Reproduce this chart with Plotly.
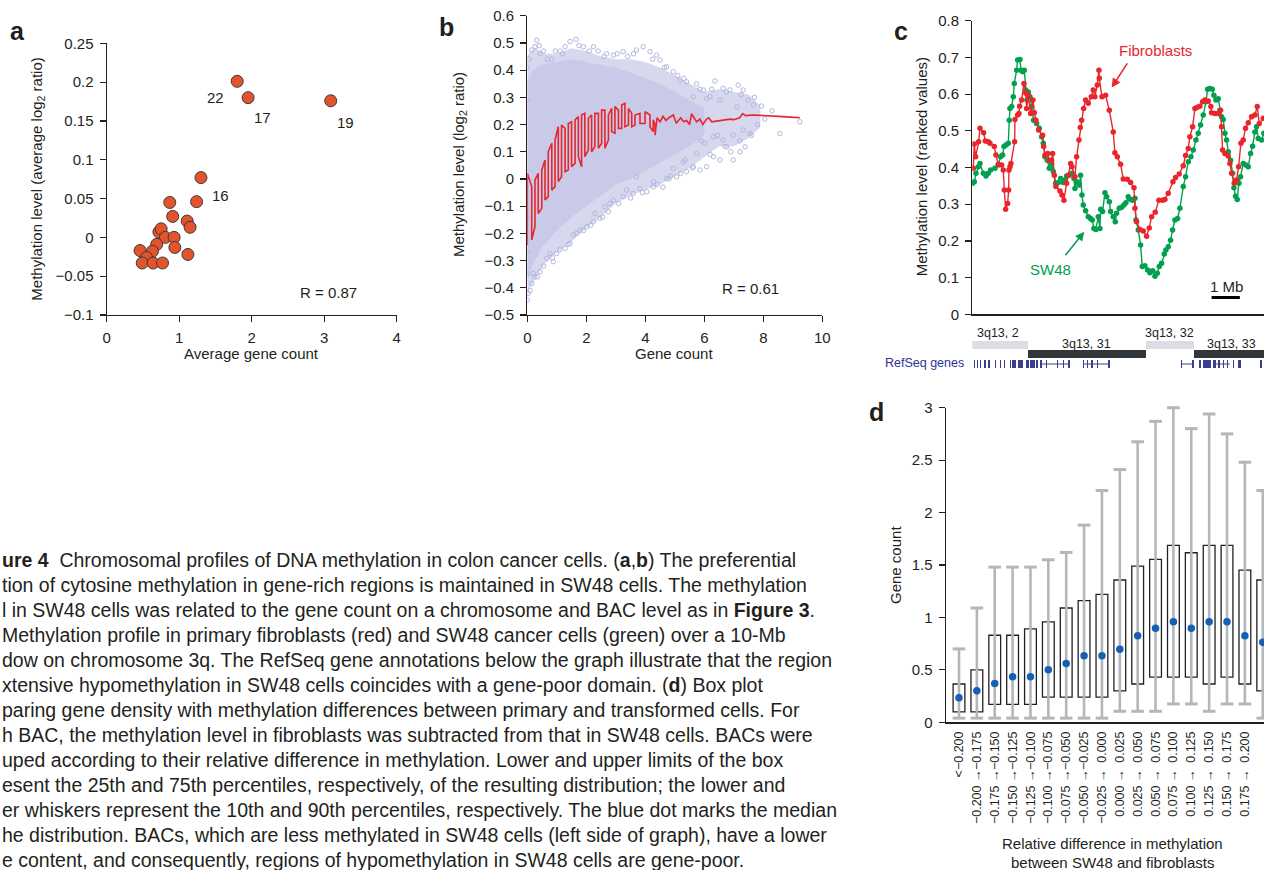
import plotly.graph_objects as go

W, H = 1264, 870
FONT = "Liberation Sans, Arial, Helvetica, sans-serif"
INK = "#231f20"

def fx(p):
    return p / W

def fy(p):
    return 1 - p / H

# ---------------- Panel a data ----------------
a_gene = [1.80, 1.95, 3.09, 1.30, 0.87, 1.24, 0.91, 1.11, 1.15, 0.72, 0.75,
          0.81, 0.93, 0.69, 0.94, 0.46, 0.63, 0.55, 1.12, 0.49, 0.64, 0.77]
a_meth = [0.201, 0.180, 0.176, 0.077, 0.045, 0.046, 0.027, 0.021, 0.013, 0.007, 0.011,
          0.000, 0.000, -0.009, -0.013, -0.017, -0.018, -0.026, -0.022, -0.033, -0.033, -0.033]
a_chrom_labels = ["22", "17", "19", "16"]
a_label_idx = [0, 1, 2, 3]
a_yticks = [-0.1, -0.05, 0, 0.05, 0.1, 0.15, 0.2, 0.25]
a_yticktext = ["\u22120.1", "\u22120.05", "0", "0.05", "0.1", "0.15", "0.2", "0.25"]

# ---------------- Panel b data ----------------
b_outer_x = [0.0, 0.1, 0.3, 0.6, 1.0, 1.5, 2.0, 2.5, 3.0, 3.5, 4.0, 4.5, 5.0, 5.5, 6.0, 6.5, 7.0, 7.5, 7.9]
b_outer_hi = [0.45, 0.47, 0.48, 0.46, 0.46, 0.48, 0.47, 0.45, 0.44, 0.44, 0.43, 0.41, 0.38, 0.35, 0.32, 0.33, 0.32, 0.31, 0.27]
b_outer_lo = [-0.44, -0.40, -0.36, -0.31, -0.27, -0.23, -0.18, -0.14, -0.09, -0.06, -0.04, -0.02, 0.01, 0.04, 0.08, 0.12, 0.12, 0.15, 0.19]
b_core_x = [0.0, 0.2, 0.5, 1.0, 1.5, 2.0, 2.5, 3.0, 3.5, 4.0, 4.5, 5.0, 5.5, 6.0]
b_core_hi = [0.36, 0.40, 0.42, 0.43, 0.44, 0.43, 0.42, 0.41, 0.39, 0.37, 0.35, 0.32, 0.29, 0.26]
b_core_lo = [-0.36, -0.31, -0.25, -0.19, -0.14, -0.10, -0.06, -0.02, 0.00, 0.03, 0.06, 0.09, 0.12, 0.16]
b_pts_x = [0.15, 0.26, 0.32, 0.43, 0.68, 0.82, 1.11, 1.28, 1.45, 1.65, 1.90, 2.24, 2.69, 2.92,
           3.25, 3.70, 3.93, 4.16, 4.38, 4.50, 4.72, 4.95, 5.18, 5.40, 5.74, 5.97, 6.19, 6.36,
           6.64, 6.87, 7.15, 7.32, 7.49, 7.94, 7.66, 7.10, 6.53, 6.08, 5.63,
           9.24, 8.56, 7.55, 7.38, 7.21, 6.98, 6.76, 6.53, 6.31, 6.08, 5.85, 5.63, 5.40, 5.06,
           4.72, 4.27, 4.05, 3.82, 3.59, 3.25, 2.92, 2.63, 2.46, 2.24, 2.01, 1.79, 1.56, 1.28,
           0.99, 0.88, 0.66, 0.43, 0.26, 0.15, 0.03, 0.00, 0.20, 0.77, 1.45, 1.67, 2.29, 2.80,
           3.37, 4.27, 3.70, 4.95, 5.29, 5.74, 6.02, 6.31, 6.64, 6.98, 7.32,
           0.0, 0.0, 0.0, 0.0, 0.0, 8.05, 8.30, 7.80, 6.90, 6.45, 5.90, 5.35, 4.85, 4.60,
           0.05, 0.40, 0.55, 0.95, 1.20, 1.75, 2.10, 2.40, 2.60, 3.05, 3.40, 3.60, 4.25, 4.65,
           5.10, 5.30, 5.85, 6.25, 6.75, 7.25, 7.70,
           0.10, 0.35, 0.55, 0.85, 1.10, 1.40, 1.90, 2.15, 2.55, 2.75, 3.10, 3.50, 3.90, 4.40,
           4.80, 5.20, 5.60, 6.20, 6.70, 7.20, 7.60]
b_pts_y = [0.474, 0.486, 0.510, 0.460, 0.440, 0.440, 0.470, 0.486, 0.505, 0.513, 0.486, 0.486, 0.460, 0.455,
           0.468, 0.474, 0.486, 0.468, 0.455, 0.437, 0.412, 0.394, 0.363, 0.357, 0.350, 0.327, 0.302, 0.360,
           0.333, 0.327, 0.345, 0.327, 0.290, 0.268, 0.272, 0.265, 0.290, 0.296, 0.302,
           0.210, 0.167, 0.167, 0.118, 0.100, 0.070, 0.118, 0.070, 0.082, 0.045, 0.033, 0.045, 0.027, 0.008,
           0.002, -0.029, -0.047, -0.035, -0.053, -0.065, -0.078, -0.102, -0.145, -0.157, -0.176, -0.188, -0.206, -0.255,
           -0.274, -0.304, -0.292, -0.341, -0.360, -0.384, -0.421, -0.445, -0.347, -0.274, -0.237, -0.200, -0.127, -0.090,
           -0.041, -0.010, 0.008, 0.039, 0.063, 0.094, 0.131, 0.155, 0.143, 0.161, 0.180,
           0.41, 0.29, -0.14, -0.27, -0.35, 0.22, 0.25, 0.20, 0.10, 0.16, 0.14, 0.07, 0.01, -0.03,
           0.44, 0.49, 0.47, 0.47, 0.46, 0.49, 0.47, 0.47, 0.45, 0.46, 0.45, 0.46, 0.44, 0.41,
           0.38, 0.37, 0.33, 0.33, 0.32, 0.31, 0.30,
           -0.41, -0.36, -0.32, -0.29, -0.26, -0.24, -0.19, -0.17, -0.14, -0.12, -0.09, -0.07, -0.05, -0.02,
           0.00, 0.02, 0.04, 0.09, 0.12, 0.14, 0.16]
b_red_x = [0.0, 0.15, 0.26, 0.37, 0.49, 0.60, 0.71, 0.83, 0.94, 1.05, 1.16, 1.28, 1.39, 1.50,
           1.62, 1.73, 1.84, 1.95, 2.07, 2.18, 2.29, 2.41, 2.52, 2.63, 2.75, 2.86, 2.97, 3.09,
           3.20, 3.31, 3.43, 3.54, 3.65, 3.82, 3.99, 4.16, 4.27, 4.33]
b_red_lo = [-0.243, -0.224, -0.175, -0.127, -0.108, -0.077, -0.065, -0.041, -0.028, -0.010, 0.008, 0.027,
            0.033, 0.045, 0.057, 0.082, 0.045, 0.082, 0.106, 0.100, 0.119, 0.113, 0.131, 0.113, 0.143,
            0.174, 0.168, 0.186, 0.186, 0.192, 0.198, 0.192, 0.198, 0.204, 0.204, 0.192, 0.174, 0.161]
b_red_hi = [0.021, -0.028, -0.004, 0.021, 0.033, 0.070, 0.100, 0.131, 0.143, 0.192, 0.198, 0.186,
            0.204, 0.210, 0.217, 0.229, 0.235, 0.241, 0.223, 0.235, 0.241, 0.241, 0.253, 0.253, 0.235,
            0.259, 0.266, 0.253, 0.272, 0.278, 0.259, 0.241, 0.235, 0.241, 0.247, 0.235, 0.217, 0.200]
b_tail_x = [4.40, 4.50, 4.60, 4.70, 4.80, 4.95, 5.05, 5.20, 5.30, 5.40, 5.50, 5.57, 5.65, 5.74, 5.85,
            5.95, 6.08, 6.15, 6.25, 6.40, 6.53, 6.70, 6.87, 7.00, 7.20, 7.30, 7.40, 7.66, 8.00, 8.23,
            8.50, 8.79, 9.00, 9.24]
b_tail_y = [0.225, 0.210, 0.230, 0.215, 0.225, 0.235, 0.205, 0.225, 0.210, 0.215, 0.200, 0.240, 0.225,
            0.210, 0.220, 0.200, 0.220, 0.225, 0.210, 0.212, 0.215, 0.218, 0.220, 0.218, 0.225, 0.240,
            0.233, 0.235, 0.234, 0.232, 0.230, 0.228, 0.227, 0.225]
b_yticks = [-0.5, -0.4, -0.3, -0.2, -0.1, 0, 0.1, 0.2, 0.3, 0.4, 0.5, 0.6]
b_yticktext = ["\u22120.5", "\u22120.4", "\u22120.3", "\u22120.2", "\u22120.1", "0",
               "0.1", "0.2", "0.3", "0.4", "0.5", "0.6"]

# ---------------- Panel c data (position in Mb) ----------------
c_fib_x = [0.035, 0.07, 0.118, 0.224, 0.271, 0.40, 0.459, 0.565, 0.624, 0.777, 0.836, 0.919, 1.037, 1.095,
           1.131, 1.178, 1.249, 1.284, 1.296, 1.331, 1.366, 1.496, 1.508, 1.602, 1.649, 1.673, 1.743,
           1.826, 1.896, 1.92, 1.979, 2.061, 2.144, 2.191, 2.25, 2.344, 2.485, 2.521, 2.568, 2.662,
           2.721, 2.803, 2.839, 2.898, 2.956, 3.098, 3.168, 3.239, 3.333, 3.392, 3.475, 3.522, 3.628,
           3.687, 3.769, 3.816, 3.863, 3.934, 4.005, 4.099, 4.205, 4.276, 4.334, 4.417, 4.476, 4.488,
           4.582, 4.711, 4.841, 4.982, 5.041, 5.124, 5.241, 5.336, 5.477, 5.595, 5.713, 5.748, 5.807,
           5.925, 6.042, 6.16, 6.254, 6.337, 6.466, 6.596, 6.726, 6.808, 6.926, 7.091, 7.185, 7.314,
           7.456, 7.538, 7.633, 7.691, 7.786, 7.868, 7.951, 8.045, 8.139, 8.221, 8.339, 8.433, 8.457,
           8.575, 8.693, 8.775, 8.81, 8.846, 8.928, 9.046, 9.105, 9.164, 9.258, 9.34, 9.411, 9.494,
           9.576, 9.658, 9.753, 9.871, 9.988, 10.071, 10.141, 10.283]
c_fib_y = [0.398, 0.464, 0.429, 0.470, 0.507, 0.495, 0.472, 0.470, 0.466, 0.457, 0.434, 0.409, 0.407, 0.393,
           0.339, 0.286, 0.302, 0.339, 0.393, 0.402, 0.411, 0.470, 0.531, 0.543, 0.547, 0.567, 0.584,
           0.629, 0.602, 0.561, 0.597, 0.547, 0.584, 0.549, 0.529, 0.502, 0.488, 0.457, 0.434, 0.438,
           0.420, 0.420, 0.438, 0.379, 0.348, 0.336, 0.325, 0.311, 0.357, 0.379, 0.411, 0.402, 0.375,
           0.429, 0.475, 0.509, 0.529, 0.561, 0.584, 0.575, 0.593, 0.611, 0.593, 0.625, 0.665, 0.643,
           0.593, 0.597, 0.556, 0.497, 0.440, 0.429, 0.409, 0.369, 0.368, 0.359, 0.345, 0.289, 0.252,
           0.231, 0.227, 0.213, 0.235, 0.266, 0.278, 0.311, 0.311, 0.313, 0.330, 0.361, 0.373, 0.382,
           0.405, 0.433, 0.452, 0.484, 0.511, 0.561, 0.564, 0.567, 0.579, 0.584, 0.581, 0.566, 0.549,
           0.547, 0.547, 0.556, 0.511, 0.448, 0.438, 0.431, 0.411, 0.384, 0.357, 0.366, 0.402, 0.466,
           0.475, 0.507, 0.522, 0.538, 0.543, 0.566, 0.520, 0.534]
c_sw_x = [0.012, 0.071, 0.13, 0.212, 0.271, 0.389, 0.483, 0.565, 0.648, 0.801, 0.919, 1.001, 1.072, 1.119,
          1.19, 1.272, 1.307, 1.331, 1.39, 1.449, 1.484, 1.567, 1.602, 1.684, 1.72, 1.779, 1.837, 1.885,
          1.932, 1.979, 2.038, 2.097, 2.167, 2.273, 2.367, 2.45, 2.509, 2.568, 2.65, 2.721, 2.803, 2.862,
          2.945, 3.039, 3.121, 3.216, 3.274, 3.333, 3.428, 3.522, 3.592, 3.628, 3.687, 3.781, 3.828,
          3.875, 3.922, 4.005, 4.099, 4.181, 4.24, 4.299, 4.37, 4.452, 4.511, 4.535, 4.605, 4.688, 4.747,
          4.841, 4.888, 4.982, 5.053, 5.1, 5.194, 5.277, 5.359, 5.43, 5.512, 5.595, 5.665, 5.748, 5.783,
          5.866, 5.948, 6.007, 6.101, 6.196, 6.278, 6.372, 6.455, 6.537, 6.608, 6.69, 6.784, 6.843,
          6.926, 7.008, 7.079, 7.161, 7.256, 7.338, 7.456, 7.538, 7.633, 7.727, 7.809, 7.903, 7.986,
          8.068, 8.163, 8.257, 8.316, 8.398, 8.481, 8.539, 8.61, 8.693, 8.751, 8.81, 8.869, 8.928,
          8.987, 9.046, 9.128, 9.199, 9.246, 9.305, 9.364, 9.423, 9.482, 9.576, 9.67, 9.753, 9.835,
          9.906, 9.988, 10.047, 10.106, 10.224, 10.306]
c_sw_y = [0.357, 0.361, 0.384, 0.402, 0.411, 0.384, 0.377, 0.384, 0.393, 0.398, 0.407, 0.429, 0.434, 0.457,
          0.461, 0.466, 0.529, 0.561, 0.566, 0.593, 0.629, 0.665, 0.693, 0.694, 0.665, 0.661, 0.665, 0.611,
          0.584, 0.606, 0.593, 0.566, 0.529, 0.520, 0.507, 0.484, 0.466, 0.429, 0.420, 0.398, 0.411, 0.389,
          0.357, 0.359, 0.370, 0.359, 0.366, 0.377, 0.379, 0.384, 0.370, 0.343, 0.361, 0.352, 0.379,
          0.325, 0.298, 0.282, 0.266, 0.261, 0.257, 0.234, 0.231, 0.266, 0.234, 0.286, 0.280, 0.331, 0.320,
          0.307, 0.280, 0.266, 0.252, 0.275, 0.289, 0.292, 0.298, 0.304, 0.320, 0.313, 0.311, 0.316, 0.257,
          0.230, 0.189, 0.130, 0.132, 0.121, 0.113, 0.119, 0.104, 0.112, 0.130, 0.139, 0.164, 0.175,
          0.184, 0.202, 0.230, 0.257, 0.261, 0.289, 0.348, 0.375, 0.416, 0.429, 0.448, 0.475, 0.493,
          0.516, 0.543, 0.579, 0.613, 0.615, 0.613, 0.597, 0.584, 0.587, 0.556, 0.538, 0.531, 0.493,
          0.475, 0.443, 0.420, 0.384, 0.345, 0.322, 0.313, 0.357, 0.375, 0.411, 0.407, 0.402, 0.438,
          0.458, 0.497, 0.511, 0.479, 0.475, 0.493]
c_yticks = [0, 0.1, 0.2, 0.3, 0.4, 0.5, 0.6, 0.7, 0.8]
c_yticktext = ["0", "0.1", "0.2", "0.3", "0.4", "0.5", "0.6", "0.7", "0.8"]
c_scale_start = 8.457   # Mb, left end of the 1-Mb scale bar
c_scale_len = 1.0

band_names = ["3q13, 2", "3q13, 31", "3q13, 32", "3q13, 33"]
band_start = [-0.12, 1.96, 6.14, 7.83]
band_end = [1.96, 6.14, 7.83, 10.6]
band_dark = [False, True, False, True]
band_label_x = [0.92, 4.05, 6.98, 9.17]

exon_start = [-0.02, 0.06, 0.15, 0.27, 0.42, 0.55, 0.80, 0.97, 1.13, 1.35, 1.42, 1.60, 1.90, 2.05,
              2.25, 2.38, 2.60, 2.80, 3.00, 3.20, 3.40, 3.92, 4.05, 4.20, 4.40, 4.80, 7.38, 7.75, 8.00,
              8.15, 8.50, 8.70, 8.85, 9.00, 9.22, 9.40, 10.18]
exon_end = [0.00, 0.10, 0.20, 0.30, 0.50, 0.62, 0.84, 1.00, 1.17, 1.38, 1.55, 1.78, 2.00, 2.20,
            2.32, 2.45, 2.63, 2.83, 3.03, 3.23, 3.45, 3.96, 4.08, 4.25, 4.44, 4.86, 7.42, 7.82, 8.10,
            8.45, 8.60, 8.75, 8.90, 9.05, 9.26, 9.50, 10.24]
intron_start = [2.45, 3.92, 7.40, 8.60]
intron_end = [3.45, 4.86, 7.80, 9.10]

# ---------------- Panel d data ----------------
d_top_labels = ["<\u22120.200", "\u22120.175", "\u22120.150", "\u22120.125", "\u22120.100", "\u22120.075",
                "\u22120.050", "\u22120.025", "0.000", "0.025", "0.050", "0.075", "0.100", "0.125",
                "0.150", "0.175", "0.200", ">0.200"]
d_low_labels = ["\u22120.200", "\u22120.175", "\u22120.150", "\u22120.125", "\u22120.100", "\u22120.075",
                "\u22120.050", "\u22120.025", "0.000", "0.025", "0.050", "0.075", "0.100", "0.125",
                "0.150", "0.175"]
d_q1 = [0.10, 0.10, 0.17, 0.17, 0.17, 0.24, 0.24, 0.24, 0.24, 0.30, 0.365, 0.43, 0.43, 0.43, 0.365, 0.43, 0.365, 0.30]
d_q3 = [0.365, 0.50, 0.83, 0.83, 0.89, 0.957, 1.09, 1.16, 1.22, 1.357, 1.49, 1.554, 1.687, 1.617, 1.687, 1.687, 1.452, 1.357]
d_med = [0.235, 0.30, 0.37, 0.435, 0.435, 0.50, 0.56, 0.635, 0.635, 0.696, 0.826, 0.896, 0.96, 0.896, 0.96, 0.96, 0.826, 0.763]
d_p10 = [0.04, 0.04, 0.04, 0.04, 0.04, 0.04, 0.04, 0.04, 0.04, 0.105, 0.105, 0.105, 0.175, 0.175, 0.105, 0.175, 0.175, 0.04]
d_p90 = [0.70, 1.09, 1.48, 1.48, 1.48, 1.55, 1.62, 1.88, 2.21, 2.41, 2.675, 2.87, 3.0, 2.80, 2.94, 2.75, 2.48, 2.21]
d_yticks = [0, 0.5, 1, 1.5, 2, 2.5, 3]
d_yticktext = ["0", "0.5", "1", "1.5", "2", "2.5", "3"]

caption_lines = [
    "<b>ure 4</b>  Chromosomal profiles of DNA methylation in colon cancer cells. (<b>a</b>,<b>b</b>) The preferential",
    "tion of cytosine methylation in gene-rich regions is maintained in SW48 cells. The methylation",
    "l in SW48 cells was related to the gene count on a chromosome and BAC level as in <b>Figure 3</b>.",
    "Methylation profile in primary fibroblasts (red) and SW48 cancer cells (green) over a 10-Mb",
    "dow on chromosome 3q. The RefSeq gene annotations below the graph illustrate that the region",
    "xtensive hypomethylation in SW48 cells coincides with a gene-poor domain. (<b>d</b>) Box plot",
    "paring gene density with methylation differences between primary and transformed cells. For",
    "h BAC, the methylation level in fibroblasts was subtracted from that in SW48 cells. BACs were",
    "uped according to their relative difference in methylation. Lower and upper limits of the box",
    "esent the 25th and 75th percentiles, respectively, of the resulting distribution; the lower and",
    "er whiskers represent the 10th and 90th percentiles, respectively. The blue dot marks the median",
    "he distribution. BACs, which are less methylated in SW48 cells (left side of graph), have a lower",
    "e content, and consequently, regions of hypomethylation in SW48 cells are gene-poor.",
]

# ---------------- Figure ----------------
fig = go.Figure()

# Panel a
fig.add_trace(go.Scatter(x=a_gene, y=a_meth, mode="markers", xaxis="x", yaxis="y",
                         marker=dict(size=12, color="#e4542c", line=dict(color="#3b3b3b", width=1)),
                         cliponaxis=False, showlegend=False))

# Panel b
fig.add_trace(go.Scatter(x=b_outer_x + b_outer_x[::-1], y=b_outer_hi + b_outer_lo[::-1],
                         fill="toself", fillcolor="#d6d8ee", mode="lines", line=dict(width=0, color="#d6d8ee"),
                         xaxis="x2", yaxis="y2", showlegend=False, hoverinfo="skip"))
fig.add_trace(go.Scatter(x=b_core_x + b_core_x[::-1], y=b_core_hi + b_core_lo[::-1],
                         fill="toself", fillcolor="#c8cae7", mode="lines", line=dict(width=0, color="#c8cae7"),
                         xaxis="x2", yaxis="y2", showlegend=False, hoverinfo="skip"))
fig.add_trace(go.Scatter(x=b_pts_x, y=b_pts_y, mode="markers", xaxis="x2", yaxis="y2",
                         marker=dict(size=4.5, symbol="circle-open", color="#b3b6de", line=dict(width=1)),
                         showlegend=False))
red_x, red_y = [], []
for i, xv in enumerate(b_red_x):
    if i % 2 == 0:
        red_x += [xv, xv]
        red_y += [b_red_lo[i], b_red_hi[i]]
    else:
        red_x += [xv, xv]
        red_y += [b_red_hi[i], b_red_lo[i]]
red_x += b_tail_x
red_y += b_tail_y
fig.add_trace(go.Scatter(x=red_x, y=red_y, mode="lines", xaxis="x2", yaxis="y2",
                         line=dict(color="#e8262c", width=1.6), showlegend=False))

# Panel c
fig.add_trace(go.Scatter(x=c_sw_x, y=c_sw_y, mode="lines+markers", xaxis="x3", yaxis="y3",
                         line=dict(color="#00a04e", width=1.4), marker=dict(size=5.5, color="#00a04e"),
                         showlegend=False))
fig.add_trace(go.Scatter(x=c_fib_x, y=c_fib_y, mode="lines+markers", xaxis="x3", yaxis="y3",
                         line=dict(color="#e8262c", width=1.4), marker=dict(size=5.5, color="#e8262c"),
                         showlegend=False))

# Cytoband + genes track
for k in range(len(band_names)):
    fig.add_trace(go.Bar(orientation="h", base=[band_start[k]], x=[band_end[k] - band_start[k]],
                         y=[29 if band_dark[k] else 20], width=8, xaxis="x4", yaxis="y4",
                         marker=dict(color="#31363a" if band_dark[k] else "#dcdde3", line=dict(width=0)),
                         showlegend=False, hoverinfo="skip"))
fig.add_trace(go.Bar(orientation="h", base=exon_start, x=[e - s for s, e in zip(exon_start, exon_end)],
                     y=[39] * len(exon_start), width=8, xaxis="x4", yaxis="y4",
                     marker=dict(color="#3a3e92", line=dict(width=0)), showlegend=False, hoverinfo="skip"))
for s, e in zip(intron_start, intron_end):
    fig.add_trace(go.Scatter(x=[s, e], y=[39, 39], mode="lines", xaxis="x4", yaxis="y4",
                             line=dict(color="#3a3e92", width=1), showlegend=False, hoverinfo="skip"))

# Panel d
n_d = len(d_q1)
pos = list(range(n_d))
wx, wy = [], []
for i in pos:
    wx += [i, i, None]
    wy += [d_p10[i], d_p90[i], None]
fig.add_trace(go.Scatter(x=wx, y=wy, mode="lines", xaxis="x5", yaxis="y5",
                         line=dict(color="#b3b7bd", width=2.6), showlegend=False, hoverinfo="skip"))
fig.add_trace(go.Scatter(x=pos + pos, y=d_p10 + d_p90, mode="markers", xaxis="x5", yaxis="y5",
                         marker=dict(symbol="line-ew", size=9, line=dict(color="#b3b7bd", width=3)),
                         cliponaxis=False, showlegend=False, hoverinfo="skip"))
fig.add_trace(go.Bar(x=pos, base=d_q1, y=[q3 - q1 for q1, q3 in zip(d_q1, d_q3)], width=0.66,
                     xaxis="x5", yaxis="y5", marker=dict(color="white", line=dict(color="#231f20", width=1.3)),
                     showlegend=False))
fig.add_trace(go.Scatter(x=pos, y=d_med, mode="markers", xaxis="x5", yaxis="y5",
                         marker=dict(size=7.5, color="#1461b4"), showlegend=False))
fig.add_trace(go.Scatter(x=[0], y=[0], mode="markers", xaxis="x6", yaxis="y5",
                         marker=dict(size=1, opacity=0), showlegend=False, hoverinfo="skip"))

tickfont = dict(family=FONT, size=15, color=INK)
def axis(**kw):
    base = dict(showline=True, linecolor=INK, linewidth=1.2, ticks="outside", ticklen=6, tickwidth=1.2,
                tickcolor=INK, showgrid=False, zeroline=False, tickfont=tickfont, ticklabelstandoff=3,
                fixedrange=True, automargin=False)
    base.update(kw)
    return base

fig.update_layout(
    template="none",
    width=W, height=H, margin=dict(l=0, r=0, t=0, b=0, pad=0, autoexpand=False),
    paper_bgcolor="white", plot_bgcolor="rgba(0,0,0,0)",
    font=dict(family=FONT, color=INK), barmode="overlay", bargap=0,
    xaxis=axis(domain=[fx(106.7), fx(396.7)], range=[0, 4], tickvals=[0, 1, 2, 3, 4], anchor="y"),
    yaxis=axis(domain=[fy(315), fy(43.3)], range=[-0.1, 0.25], tickvals=a_yticks, ticktext=a_yticktext, anchor="x"),
    xaxis2=axis(domain=[fx(527.3), fx(822.3)], range=[0, 10], tickvals=[0, 2, 4, 6, 8, 10], anchor="y2"),
    yaxis2=axis(domain=[fy(315), fy(15.7)], range=[-0.5, 0.6], tickvals=b_yticks, ticktext=b_yticktext, anchor="x2"),
    xaxis3=axis(domain=[fx(972.3), 1.0], range=[0, 10.31], ticks="", showticklabels=False, anchor="y3"),
    yaxis3=axis(domain=[fy(314.3), fy(20.7)], range=[0, 0.8], tickvals=c_yticks, ticktext=c_yticktext, anchor="x3"),
    xaxis4=dict(domain=[fx(972.3), 1.0], range=[0, 10.31], visible=False, anchor="y4", fixedrange=True, automargin=False),
    yaxis4=dict(domain=[fy(372), fy(325)], range=[47, 0], visible=False, anchor="x4", fixedrange=True, automargin=False),
    xaxis5=axis(domain=[fx(945.7), 1.0], range=[-0.744, 17.07], tickvals=pos, ticktext=d_top_labels,
                ticks="", tickangle=-90, tickfont=dict(family=FONT, size=12.5, color=INK), anchor="y5"),
    yaxis5=axis(domain=[fy(722.3), fy(407.7)], range=[0, 3], tickvals=d_yticks, ticktext=d_yticktext, anchor="x5"),
    xaxis6=dict(overlaying="x5", anchor="free", position=fy(766), range=[-0.744, 17.07],
                tickmode="array", tickvals=pos[1:17], ticktext=[t + " \u2192" for t in d_low_labels],
                tickangle=-90, showline=False, ticks="", showgrid=False, zeroline=False, automargin=False,
                tickfont=dict(family=FONT, size=12.5, color=INK), fixedrange=True),
)

ann = []
def text(x, y, s, size=15, color=INK, xref="paper", yref="paper", xanchor="center", yanchor="middle",
         angle=0, **kw):
    ann.append(dict(x=x, y=y, xref=xref, yref=yref, text=s, showarrow=False, xanchor=xanchor,
                    yanchor=yanchor, textangle=angle, font=dict(family=FONT, size=size, color=color), **kw))

# panel letters
for L, px, py in [("a", 17, 31), ("b", 446, 27), ("c", 901, 31), ("d", 876, 412)]:
    text(fx(px), fy(py), "<b>%s</b>" % L, size=25)

# panel a texts
shifts = [(-22, -16), (14, -20), (15, -22), (20, -18)]
for k, idx in enumerate(a_label_idx):
    text(a_gene[idx], a_meth[idx], a_chrom_labels[k], xref="x", yref="y", xshift=shifts[k][0], yshift=shifts[k][1])
text(fx(328), fy(292), "R = 0.87")
text(fx(251.7), fy(354), "Average gene count")
text(fx(36.7), fy(179), "Methylation level (average log<sub>2</sub> ratio)", angle=-90)

# panel b texts
text(fx(750), fy(288), "R = 0.61")
text(fx(674), fy(354), "Gene count")
text(fx(459), fy(165), "Methylation level (log<sub>2</sub> ratio)", angle=-90)

# panel c texts
text(fx(922.3), fy(167), "Methylation level (ranked values)", angle=-90)
text(fx(1155), fy(50.7), "Fibroblasts", color="#e8262c")
text(fx(1050), fy(270), "SW48", color="#00a04e")
text(fx(1226), fy(286.5), "1 Mb")
ann.append(dict(x=4.926, y=0.618, xref="x3", yref="y3", ax=16.6, ay=-25.6, text="", showarrow=True,
                arrowhead=2, arrowsize=1.2, arrowwidth=1.5, arrowcolor="#e8262c"))
ann.append(dict(x=3.958, y=0.225, xref="x3", yref="y3", ax=-20, ay=25, text="", showarrow=True,
                arrowhead=2, arrowsize=1.2, arrowwidth=1.5, arrowcolor="#00a04e"))
for k, name in enumerate(band_names):
    text(band_label_x[k], 18.5 if band_dark[k] else 8, name, size=12.5, xref="x4", yref="y4")
text(fx(966), fy(363), "RefSeq genes", size=12.5, color="#2e3192", xanchor="right")

# panel d texts
text(fx(895), fy(565), "Gene count", angle=-90)
text(fx(1112), fy(843), "Relative difference in methylation")
text(fx(1112), fy(862.5), "between SW48 and fibroblasts")

# caption
for k, line in enumerate(caption_lines):
    text(0, fy(560 + 25 * k), line, size=19.5, xanchor="left")

fig.update_layout(annotations=ann)
fig.add_shape(type="line", xref="x3", yref="y3", x0=c_scale_start, x1=c_scale_start + c_scale_len,
              y0=0.046, y1=0.046, line=dict(color="black", width=3))

fig.write_html("out.html", config={"displayModeBar": False, "staticPlot": True},
               post_script="document.body.style.margin='0';document.body.style.overflow='hidden';")
